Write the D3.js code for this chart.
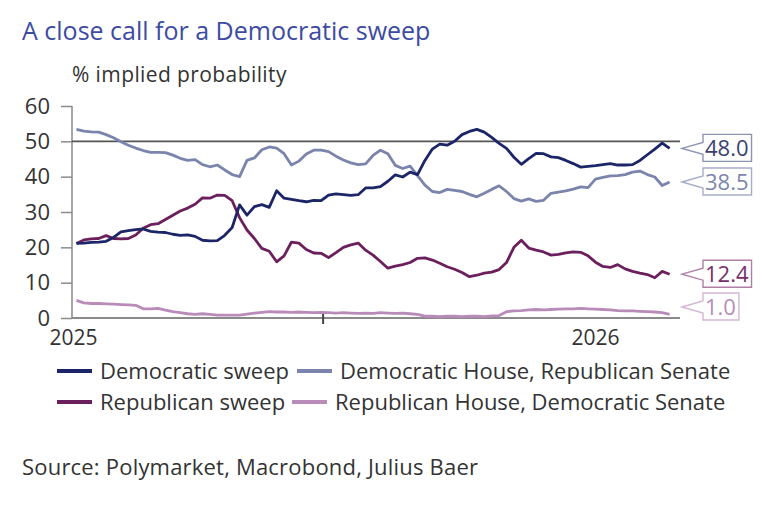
<!DOCTYPE html>
<html>
<head>
<meta charset="utf-8">
<script src="https://cdn.jsdelivr.net/npm/d3@7"></script>
<style>
  body { margin: 0; background: #fff; }
  svg { display: block; font-family: "Open Sans", sans-serif; }
</style>
</head>
<body>
<svg id="chart" width="764" height="512"></svg>
<script>
// series names and colours
const seriesNames = [
  "Democratic sweep",
  "Democratic House, Republican Senate",
  "Republican sweep",
  "Republican House, Democratic Senate"
];
const seriesColors = ["#1b2568", "#7a84ad", "#6c1f5d", "#b98bb9"];
const labelText = ["#3b4272", "#7d86ad", "#75306a", "#b58db5"];
const labelStroke = ["#8d93b5", "#a7adc9", "#b07ea6", "#d4b6d4"];

// readings every 5 days from 16 Jan 2025, % implied probability
const demSweep = [
  21.1, 21.2, 21.4, 21.5, 21.7, 22.8, 24.4, 24.7, 25.0, 25.2,
  24.5, 24.3, 24.2, 23.7, 23.4, 23.5, 23.1, 22.0, 21.8, 21.9,
  23.4, 25.6, 32.0, 29.1, 31.5, 32.1, 31.3, 36.0, 33.9, 33.6,
  33.2, 32.9, 33.3, 33.2, 34.8, 35.1, 34.9, 34.7, 34.9, 36.8,
  36.8, 37.2, 38.7, 40.5, 39.9, 41.3, 40.6, 44.6, 47.8, 49.2,
  48.9, 50.0, 51.9, 52.8, 53.4, 52.6, 51.1, 49.4, 48.0, 45.5,
  43.5, 45.1, 46.6, 46.5, 45.6, 45.4, 44.6, 43.7, 42.7, 42.9,
  43.1, 43.4, 43.7, 43.3, 43.3, 43.4, 44.6, 46.2, 47.8, 49.5,
  48.0
];
const demHouseRepSenate = [
  53.4, 52.9, 52.7, 52.6, 51.9, 51.0, 49.9, 48.9, 48.1, 47.4,
  46.9, 46.9, 46.8, 46.1, 45.2, 44.6, 44.8, 43.4, 42.8, 43.3,
  41.9, 40.6, 40.0, 44.6, 45.3, 47.6, 48.4, 48.1, 46.5, 43.3,
  44.4, 46.4, 47.5, 47.5, 47.1, 45.8, 44.7, 43.9, 43.4, 43.6,
  46.0, 47.5, 46.5, 43.2, 42.3, 43.0, 40.3, 37.6, 35.8, 35.5,
  36.4, 36.1, 35.8, 35.0, 34.3, 35.3, 36.4, 37.4, 35.8, 33.8,
  33.1, 33.7, 33.0, 33.3, 35.3, 35.6, 36.0, 36.5, 37.1, 36.9,
  39.3, 39.8, 40.2, 40.3, 40.6, 41.3, 41.6, 40.6, 39.9, 37.5,
  38.5
];
const repSweep = [
  21.1, 22.1, 22.4, 22.5, 23.3, 22.5, 22.4, 22.5, 23.5, 25.4,
  26.4, 26.7, 27.9, 29.1, 30.3, 31.1, 32.2, 34.0, 33.9, 34.8,
  34.7, 33.2, 28.4, 24.9, 22.5, 19.7, 18.9, 15.9, 17.6, 21.5,
  21.2, 19.4, 18.4, 18.3, 17.1, 18.5, 20.0, 20.7, 21.2, 19.2,
  17.8, 16.0, 14.1, 14.7, 15.1, 15.7, 16.9, 17.0, 16.4, 15.5,
  14.5, 13.8, 12.9, 11.7, 12.1, 12.7, 13.0, 13.7, 15.7, 20.0,
  22.0, 19.8, 19.2, 18.7, 17.8, 18.0, 18.4, 18.7, 18.6, 17.6,
  15.8, 14.6, 14.3, 15.1, 13.9, 13.2, 12.7, 12.3, 11.4, 13.2,
  12.4
];
const repHouseDemSenate = [
  5.0, 4.3, 4.1, 4.1, 4.0, 3.9, 3.8, 3.7, 3.6, 2.6,
  2.6, 2.7, 2.2, 1.8, 1.5, 1.2, 1.0, 1.2, 1.0, 0.8,
  0.8, 0.8, 0.8, 1.1, 1.4, 1.6, 1.8, 1.7, 1.7, 1.6,
  1.7, 1.6, 1.5, 1.6, 1.5, 1.4, 1.5, 1.4, 1.3, 1.4,
  1.3, 1.5, 1.4, 1.3, 1.4, 1.2, 1.0, 0.5, 0.5, 0.4,
  0.5, 0.5, 0.4, 0.5, 0.5, 0.4, 0.6, 0.7, 1.8, 2.0,
  2.1, 2.3, 2.4, 2.3, 2.4, 2.5, 2.6, 2.6, 2.7, 2.6,
  2.5, 2.4, 2.3, 2.1, 2.0, 2.0, 1.9, 1.8, 1.7, 1.5,
  1.0
];

const yTicks = [0, 10, 20, 30, 40, 50, 60];
const firstDay = new Date(2025, 0, 16);
const dates = demSweep.map((d, i) => d3.timeDay.offset(firstDay, 5 * i));
const allSeries = [demSweep, demHouseRepSenate, repSweep, repHouseDemSenate];

const svg = d3.select("#chart");
const plotLeft = 72, plotRight = 680, plotTop = 106, plotBottom = 318;

const x = d3.scaleTime()
  .domain([new Date(2025, 0, 13), new Date(2026, 1, 27)])
  .range([plotLeft, plotRight]);
const y = d3.scaleLinear().domain([0, 60]).range([plotBottom, plotTop]);

// titles
svg.append("text")
  .attr("x", 22).attr("y", 40)
  .attr("font-size", 25).attr("fill", "#3d4ba3")
  .text("A close call for a Democratic sweep");
svg.append("text")
  .attr("x", 72).attr("y", 82)
  .attr("font-size", 21).attr("letter-spacing", 0.4).attr("fill", "#333")
  .text("% implied probability");

// y axis
const yAxis = svg.append("g")
  .attr("transform", `translate(${plotLeft},0)`)
  .call(d3.axisLeft(y).tickValues(yTicks).tickSize(11).tickPadding(11));
yAxis.select(".domain").attr("stroke", "#8a8a8a").attr("stroke-width", 1.5)
  .attr("d", `M0,${plotTop}V${plotBottom}`);
yAxis.selectAll(".tick line").attr("stroke", "#8a8a8a").attr("stroke-width", 1.5);
yAxis.selectAll(".tick text")
  .attr("font-size", 22).attr("fill", "#333")
  .attr("font-family", "Open Sans");

// x axis
const xAxis = svg.append("g")
  .attr("transform", `translate(0,${plotBottom})`)
  .call(d3.axisBottom(x).tickValues([new Date(2025, 6, 1)]).tickSize(6).tickFormat(""));
xAxis.select(".domain").attr("stroke", "#8a8a8a").attr("stroke-width", 2)
  .attr("d", `M${plotLeft},0H${plotRight}`);
xAxis.selectAll(".tick line").attr("stroke", "#444").attr("stroke-width", 2)
  .attr("y1", -5).attr("y2", 6);

const yearLabels = [
  { label: "2025", date: new Date(2025, 0, 14) },
  { label: "2026", date: new Date(2026, 0, 1) }
];
svg.append("g").selectAll("text")
  .data(yearLabels)
  .join("text")
  .attr("x", (d) => x(d.date))
  .attr("y", plotBottom + 27)
  .attr("text-anchor", "middle")
  .attr("font-size", 21).attr("fill", "#333")
  .text((d) => d.label);

// 50% reference line
svg.append("line")
  .attr("x1", plotLeft).attr("x2", plotRight)
  .attr("y1", y(50)).attr("y2", y(50))
  .attr("stroke", "#555").attr("stroke-width", 1.6);

// series, drawn back to front
const line = d3.line()
  .x((d, i) => x(dates[i]))
  .y((d) => y(d));
const order = [3, 1, 2, 0];
svg.append("g").selectAll("path")
  .data(order)
  .join("path")
  .attr("d", (k) => line(allSeries[k]))
  .attr("fill", "none")
  .attr("stroke", (k) => seriesColors[k])
  .attr("stroke-width", 2.8)
  .attr("stroke-linejoin", "round");

// end-value callouts
const tipX = plotRight + 2, boxX = plotRight + 23;
allSeries.forEach((s, k) => {
  const v = s[s.length - 1];
  const ty = Math.min(y(v), plotBottom - 11);
  const g = svg.append("g");
  const t = g.append("text")
    .attr("x", boxX + 2).attr("y", ty + 8)
    .attr("font-size", 22).attr("fill", labelText[k])
    .text(d3.format(".1f")(v));
  const w = t.node().getComputedTextLength() + 5;
  g.insert("path", "text")
    .attr("d", `M${tipX},${ty}L${boxX},${ty - 6}V${ty - 14}H${boxX + w}V${ty + 13}H${boxX}V${ty + 6}Z`)
    .attr("fill", "#fff")
    .attr("stroke", labelStroke[k])
    .attr("stroke-width", 1.4);
});

// legend
const legendPos = [
  { sx: 57, row: 0 },
  { sx: 297, row: 0 },
  { sx: 57, row: 1 },
  { sx: 292, row: 1 }
];
const legend = svg.append("g").selectAll("g")
  .data(seriesNames)
  .join("g")
  .attr("transform", (d, i) => `translate(${legendPos[i].sx},${371 + 31 * legendPos[i].row})`);
legend.append("line")
  .attr("x1", 0).attr("x2", 35)
  .attr("stroke", (d, i) => seriesColors[i])
  .attr("stroke-width", 4);
legend.append("text")
  .attr("x", 43).attr("y", 8)
  .attr("font-size", 22).attr("fill", "#333")
  .text((d) => d);

// source
svg.append("text")
  .attr("x", 22).attr("y", 475)
  .attr("font-size", 22).attr("letter-spacing", 0.2).attr("fill", "#333")
  .text("Source: Polymarket, Macrobond, Julius Baer");
</script>
</body>
</html>
